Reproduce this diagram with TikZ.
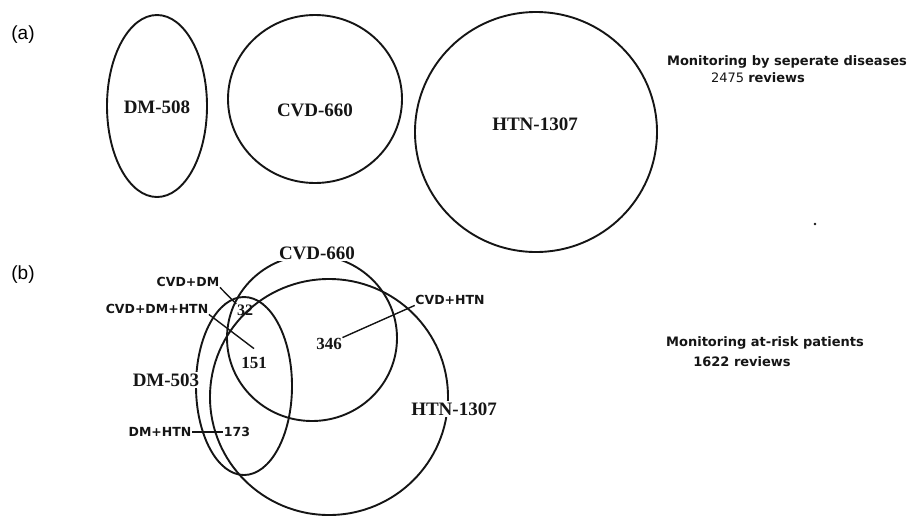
\documentclass[tikz,border=0pt]{standalone}
\usepackage{fontspec}
\setmainfont{Liberation Serif}
\setsansfont{DejaVu Sans}
\newfontfamily\panelfont{Liberation Sans}
\usepackage{tikz}
\usetikzlibrary{positioning, shapes.geometric, calc}
\usepackage{xcolor}
\definecolor{inkcol}{HTML}{151515}
\tikzset{
  % outline of one disease set
  setring/.style 2 args={ellipse, draw=inkcol, line width=1.9pt,
                         inner sep=0pt, minimum width=#1, minimum height=#2},
  % bold serif name of a set
  setname/.style={font=\bfseries\fontsize{19}{19}\selectfont,
                  text=inkcol, inner sep=0.5pt},
  % set name that breaks the outline under it
  setname cut/.style={setname, fill=white, inner sep=2pt},
  % overlap counts
  countnum/.style={font=\bfseries\fontsize{#1}{#1}\selectfont,
                   text=inkcol, inner sep=0.5pt},
  % small sans names of overlaps
  pairname/.style={font=\sffamily\bfseries\fontsize{12.5}{12.5}\selectfont,
                   text=inkcol, inner sep=0.5pt},
  % thin leader line
  leader/.style={draw=inkcol, line width=1.4pt},
  % panel tags (a), (b)
  paneltag/.style={font=\panelfont\fontsize{19}{19}\selectfont, inner sep=0pt},
  % totals on the right
  summary/.style={font=\sffamily\bfseries\fontsize{13}{13}\selectfont,
                  text=inkcol, inner sep=0pt},
}

\begin{document}
\begin{tikzpicture}[x=1pt, y=-1pt]
  \useasboundingbox (0,0) rectangle (907,517);

  % (a) three separate sets
  \node[paneltag] (tagA) at (23,35) {(a)};
  \foreach \id/\x/\y/\w/\h in {dmA/157/106/100/182, cvdA/315/99/174/168,
                               htnA/536/132/242/240}
    \node[setring={\w pt}{\h pt}] (\id) at (\x,\y) {};
  \node[setname] (dmAname) at (157,107) {DM-508};
  \node[setname] (cvdAname) at (315,110) {CVD-660};
  \node[setname] (htnAname) at (535,124) {HTN-1307};

  \node[summary] (sumA) at (787,62) {Monitoring by seperate diseases};
  \node[summary] (sumAcount) at (758,78) {\mdseries 2475 \bfseries reviews};
  \fill[inkcol] (815,224) circle (1.4pt);

  % (b) overlapping sets
  \node[paneltag] (tagB) at (23,275) {(b)};
  \node[setring={170pt}{166pt}] (cvdB) at (312,338) {};
  \node[setring={238pt}{236pt}] (htnB) at (329,397) {};
  \node[setring={96pt}{178pt}] (dmB) at (244,386) {};
  \node[setname cut] (cvdBname) at (317,253) {CVD-660};
  \node[setname cut] (dmBname) at (166,380) {DM-503};
  \node[setname cut] (htnBname) at (454,409) {HTN-1307};

  \node[countnum=16] (n32) at (245,310) {32};
  \node[countnum=17] (n151) at (254,363) {151};
  \node[countnum=17] (n346) at (329,344) {346};
  \node[pairname] (n173) at (237,432) {173};

  \node[pairname] (cvddm) at (188,282) {CVD+DM};
  \node[pairname] (cvddmhtn) at (157,309) {CVD+DM+HTN};
  \node[pairname] (cvdhtn) at (450,300) {CVD+HTN};
  \node[pairname] (dmhtn) at (160,432) {DM+HTN};

  \draw[leader] (cvddm.south east) -- (n32.north west);
  \draw[leader] (cvddmhtn.south east) -- ([yshift=8pt]n151.north);
  \draw[leader] (n346.north east) -- (cvdhtn.south west);
  \draw[leader] (dmhtn.east) -- (n173.west);

  \node[summary] (sumB) at (765,343) {Monitoring at-risk patients};
  \node[summary] (sumBcount) at (742,362) {1622 reviews};
\end{tikzpicture}
\end{document}
